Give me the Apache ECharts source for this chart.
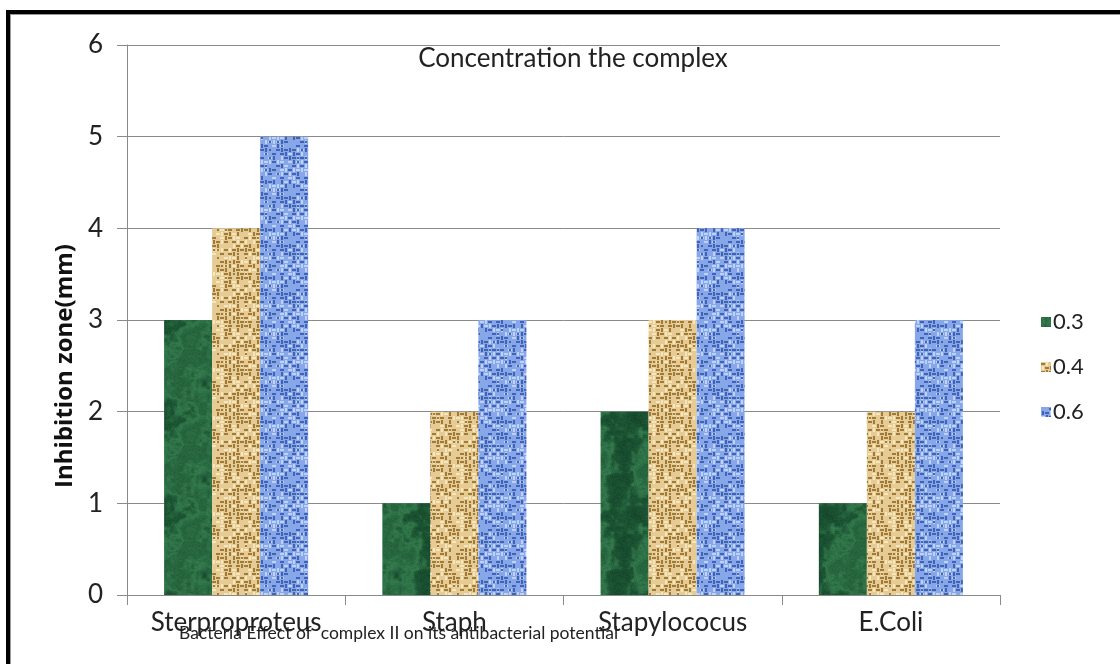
<!DOCTYPE html>
<html>
<head>
<meta charset="utf-8">
<script src="https://cdn.jsdelivr.net/npm/echarts@6/dist/echarts.min.js"></script>
<style>
  html, body { margin: 0; padding: 0; background: #fff; }
  #wrap { position: relative; width: 1120px; height: 664px; overflow: hidden; background: #fff; }
  #frame { position: absolute; left: 6px; top: 10px; width: 1200px; height: 800px;
           border-left: 4px solid #000; border-top: 4px solid #000;
           box-shadow: inset 1px 1px 0 #9a9a9a; pointer-events: none; z-index: 2; }
  #chart { position: absolute; left: 0; top: 0; width: 1120px; height: 664px; }
</style>
</head>
<body>
<div id="wrap">
  <div id="chart"></div>
  <div id="frame"></div>
</div>
<script>
// Bacteria tested and inhibition zones (mm) per concentration
const categories = ['Sterproproteus', 'Staph', 'Stapylococus', 'E.Coli'];
const seriesNames = ['0.3', '0.4', '0.6'];
const values03 = [3, 1, 2, 1];
const values04 = [4, 2, 3, 2];
const values06 = [5, 3, 4, 3];
const yTicks = [0, 1, 2, 3, 4, 5, 6];

// deterministic hash noise for fill textures
function hash(x, y, s) {
  const v = Math.sin(x * 127.1 + y * 311.7 + s * 74.7) * 43758.5453;
  return v - Math.floor(v);
}
// smooth value noise on a periodic lattice
function vnoise(x, y, cell, period, s) {
  const gx = x / cell, gy = y / cell;
  const x0 = Math.floor(gx), y0 = Math.floor(gy);
  const fx = gx - x0, fy = gy - y0;
  const ux = fx * fx * (3 - 2 * fx), uy = fy * fy * (3 - 2 * fy);
  const h = (a, b) => hash(((a % period) + period) % period, ((b % period) + period) % period, s);
  const a = h(x0, y0), b = h(x0 + 1, y0), c = h(x0, y0 + 1), d = h(x0 + 1, y0 + 1);
  return (a * (1 - ux) + b * ux) * (1 - uy) + (c * (1 - ux) + d * ux) * uy;
}

// green marble fill
function marbleTexture() {
  const S = 96;
  const c = document.createElement('canvas');
  c.width = S; c.height = S;
  const g = c.getContext('2d');
  const img = g.createImageData(S, S);
  for (let y = 0; y < S; y++) {
    for (let x = 0; x < S; x++) {
      const n = vnoise(x, y, 24, 4, 1) * 0.5 + vnoise(x, y, 12, 8, 2) * 0.3 + vnoise(x, y, 4, 24, 3) * 0.2;
      const vein = 1 - Math.min(1, Math.abs(n - 0.5) * 7);
      const t = n * 0.55 + vein * 0.3 + hash(x, y, 4) * 0.15;
      const i = (y * S + x) * 4;
      img.data[i] = 12 + t * 58;
      img.data[i + 1] = 58 + t * 95;
      img.data[i + 2] = 34 + t * 62;
      img.data[i + 3] = 255;
    }
  }
  g.putImageData(img, 0, 0);
  return c;
}

// woven burlap / linen fill
function wovenTexture(base, dark, light, seed) {
  const S = 48;
  const c = document.createElement('canvas');
  c.width = S; c.height = S;
  const g = c.getContext('2d');
  g.fillStyle = base;
  g.fillRect(0, 0, S, S);
  for (let y = 0; y < S; y += 4) {
    for (let x = 0; x < S; x += 4) {
      const r = hash(x, y, seed);
      const horiz = ((x + y) / 4) % 2 === 0;
      g.fillStyle = r < 0.4 ? dark : (r < 0.72 ? light : base);
      if (horiz) g.fillRect(x, y + 1, 4, 2); else g.fillRect(x + 1, y, 2, 4);
      if (hash(y, x, seed + 3) > 0.82) {
        g.fillStyle = dark;
        g.fillRect(x + 1, y + 1, 2, 2);
      }
    }
  }
  return c;
}

const fillGreen = { image: marbleTexture(), repeat: 'repeat' };
const fillTan = { image: wovenTexture('#e6cc94', '#a07a38', '#f5e6bc', 5), repeat: 'repeat' };
const fillBlue = { image: wovenTexture('#88a7e8', '#4063b6', '#bed2f7', 9), repeat: 'repeat' };

const fontFam = 'Lato, "Open Sans", sans-serif';
const chart = echarts.init(document.getElementById('chart'), null, { renderer: 'canvas' });

function bar(name, data, fill) {
  return {
    name: name, type: 'bar', data: data,
    barGap: '0%', barCategoryGap: '34%',
    itemStyle: { color: fill },
    emphasis: { disabled: true }
  };
}

chart.setOption({
  animation: false,
  backgroundColor: '#fff',
  title: [
    {
      text: 'Concentration the complex', left: 568, top: 41, textAlign: 'center',
      textStyle: { fontFamily: fontFam, fontSize: 26, fontWeight: 'normal', color: '#222' }
    },
    {
      text: 'Bacteria Effect of  complex II on its antibacterial potential', left: 174, top: 619,
      textStyle: { fontFamily: fontFam, fontSize: 17.5, fontWeight: 'normal', color: '#222' }
    }
  ],
  legend: {
    orient: 'vertical', left: 1036, top: 306, itemGap: 23,
    itemWidth: 10, itemHeight: 10, icon: 'rect',
    data: seriesNames,
    textStyle: { fontFamily: fontFam, fontSize: 22, color: '#222', padding: [0, 0, 0, -3] }
  },
  grid: { left: 127, right: 120, top: 45, bottom: 69 },
  xAxis: {
    type: 'category', data: categories,
    axisLine: { lineStyle: { color: '#8a8a8a', width: 1 } },
    axisTick: { show: true, interval: 0, length: 10, lineStyle: { color: '#8a8a8a' } },
    axisLabel: { interval: 0, fontFamily: fontFam, fontSize: 26, color: '#222', margin: 15 }
  },
  yAxis: {
    type: 'value', min: yTicks[0], max: yTicks[yTicks.length - 1], interval: 1,
    name: 'Inhibition zone(mm)', nameLocation: 'middle', nameGap: 31,
    nameTextStyle: { fontFamily: '"Open Sans", sans-serif', fontSize: 24, fontWeight: 'bold', color: '#111', padding: [0, 92, 0, 0] },
    axisLine: { show: true, lineStyle: { color: '#8a8a8a', width: 1 } },
    axisTick: { show: true, length: 10, lineStyle: { color: '#8a8a8a' } },
    axisLabel: { fontFamily: fontFam, fontSize: 26, color: '#222', margin: 24 },
    splitLine: { lineStyle: { color: '#8a8a8a', width: 1 } }
  },
  series: [
    bar(seriesNames[0], values03, fillGreen),
    bar(seriesNames[1], values04, fillTan),
    bar(seriesNames[2], values06, fillBlue)
  ]
});
</script>
</body>
</html>
